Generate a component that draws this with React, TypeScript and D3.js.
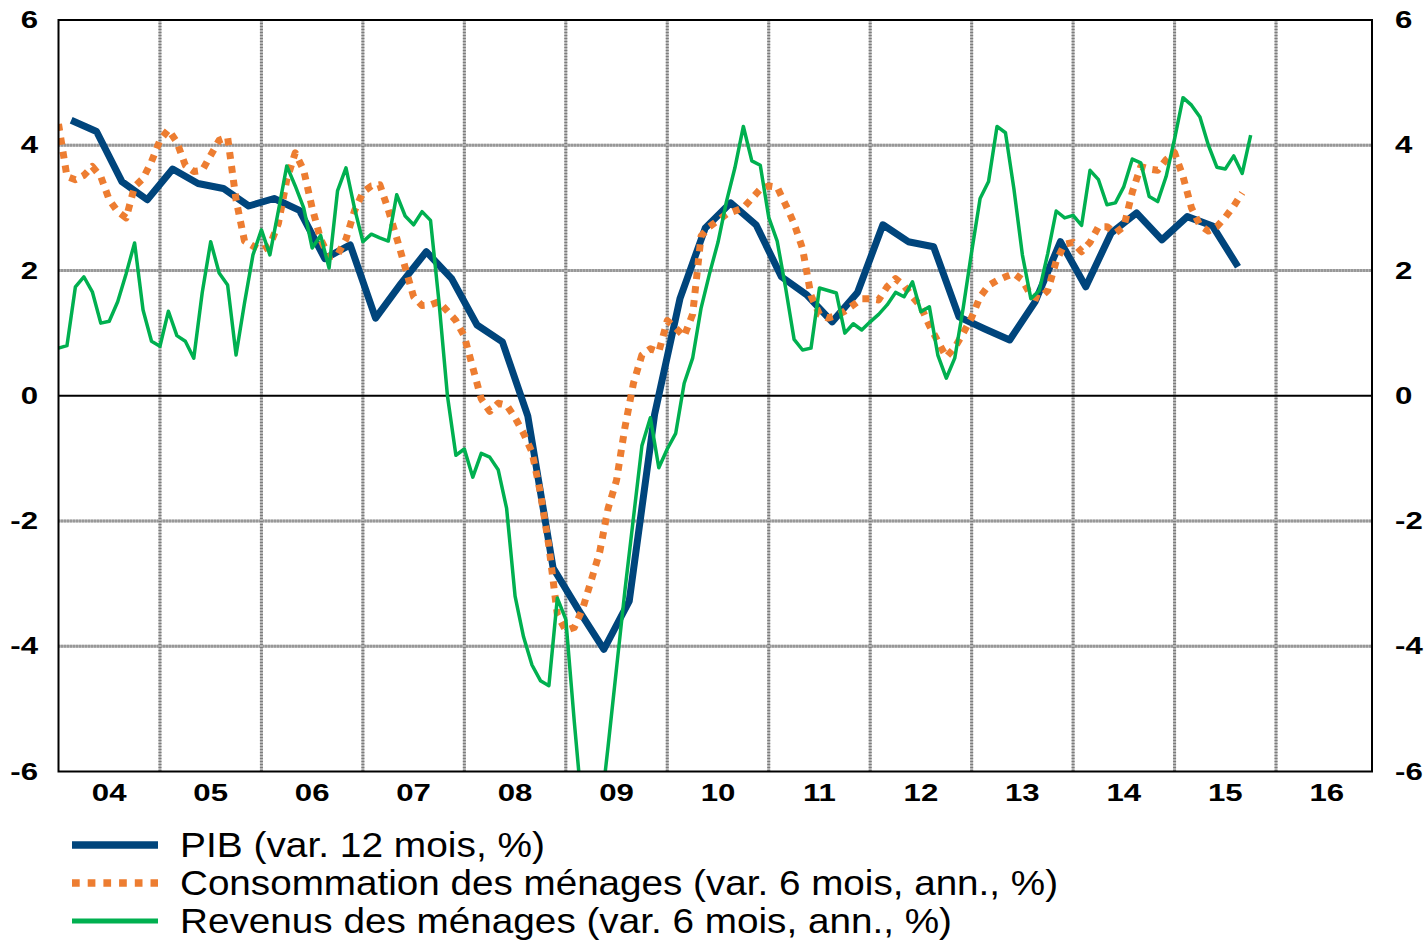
import React from "react";
import * as d3 from "d3";

// Year labels (category axis, one per calendar year)
const years = ["04", "05", "06", "07", "08", "09", "10", "11", "12", "13", "14", "15", "16"];
const yTicks = [-6, -4, -2, 0, 2, 4, 6];
const gridValues = [-4, -2, 2, 4];

// PIB, quarterly (Q1 2004 .. Q3 2015), var. 12 mois %
const pib = [
  4.40, 4.22, 3.42, 3.13, 3.62, 3.39, 3.31, 3.03, 3.15, 2.96, 2.19, 2.41,
  1.24, 1.79, 2.30, 1.87, 1.13, 0.86, -0.32, -2.75, -3.42, -4.05, -3.28, -0.30,
  1.55, 2.68, 3.08, 2.73, 1.90, 1.61, 1.18, 1.65, 2.73, 2.46, 2.38, 1.26,
  1.07, 0.89, 1.50, 2.46, 1.74, 2.60, 2.92, 2.49, 2.86, 2.71, 2.06,
];

// Consommation des ménages, monthly from Jan 2004
const consommation = [
  4.34, 3.5, 3.45, 3.52, 3.66, 3.5, 3.13, 2.94, 2.84, 3.34,
  3.47, 3.74, 4.08, 4.25, 4.05, 3.68, 3.58, 3.6, 3.84, 4.08,
  4.13, 3.13, 2.47, 2.39, 2.32, 2.4, 2.75, 3.45, 3.88, 3.6,
  3.0, 2.5, 2.22, 2.25, 2.5, 2.95, 3.25, 3.35, 3.37, 2.97,
  2.52, 2.05, 1.58, 1.44, 1.45, 1.5, 1.35, 1.2, 0.95, 0.45,
  -0.05, -0.25, -0.12, -0.15, -0.35, -0.6, -0.9, -1.55, -2.4, -3.5,
  -3.75, -3.7, -3.4, -2.95, -2.5, -1.8, -1.35, -0.5, 0.2, 0.65,
  0.75, 0.7, 1.2, 1.08, 0.95, 1.3, 2.55, 2.7, 2.8, 2.9,
  2.95, 3.0, 3.15, 3.3, 3.35, 3.33, 3.05, 2.75, 2.35, 1.6,
  1.3, 1.24, 1.28, 1.35, 1.45, 1.55, 1.55, 1.53, 1.74, 1.87,
  1.76, 1.58, 1.42, 1.12, 0.87, 0.62, 0.77, 1.0, 1.25, 1.58,
  1.76, 1.84, 1.9, 1.95, 1.85, 1.6, 1.55, 1.68, 2.15, 2.42,
  2.45, 2.3, 2.45, 2.7, 2.7, 2.6, 2.7, 3.25, 3.66, 3.62,
  3.6, 3.77, 3.88, 3.5, 3.0, 2.72, 2.63, 2.7, 2.85, 3.03,
  3.24,
];

// Revenus des ménages, monthly from Jan 2004
const revenus = [
  0.76, 0.80, 1.74, 1.90, 1.66, 1.16, 1.19, 1.50, 1.95, 2.44,
  1.37, 0.87, 0.79, 1.35, 0.96, 0.87, 0.60, 1.65, 2.46, 1.96,
  1.77, 0.65, 1.48, 2.25, 2.65, 2.25, 2.95, 3.67, 3.35, 3.0,
  2.36, 2.56, 2.04, 3.27, 3.64, 3.0, 2.46, 2.58, 2.52, 2.47,
  3.21, 2.87, 2.73, 2.94, 2.8, 1.5, 0.0, -0.95, -0.85, -1.30,
  -0.92, -0.98, -1.18, -1.8, -3.2, -3.85, -4.3, -4.55, -4.63, -3.23,
  -3.57, -5.2, -6.7, -7.4, -6.8, -5.6, -4.35, -3.1, -1.95, -0.8,
  -0.35, -1.15, -0.85, -0.6, 0.2, 0.6, 1.4, 1.95, 2.45, 3.1,
  3.64, 4.3, 3.75, 3.68, 2.85, 2.47, 1.72, 0.9, 0.73, 0.76,
  1.72, 1.68, 1.64, 1.0, 1.15, 1.05, 1.18, 1.3, 1.45, 1.65,
  1.58, 1.82, 1.34, 1.42, 0.65, 0.28, 0.6, 1.4, 2.3, 3.15,
  3.42, 4.3, 4.2, 3.3, 2.25, 1.55, 1.68, 2.27, 2.95, 2.84,
  2.88, 2.72, 3.6, 3.45, 3.05, 3.08, 3.34, 3.78, 3.72, 3.18,
  3.1, 3.5, 4.1, 4.76, 4.64, 4.45, 4.0, 3.65, 3.62, 3.83,
  3.55, 4.16,
];

const legendLabels = [
  "PIB (var. 12 mois, %)",
  "Consommation des ménages (var. 6 mois, ann., %)",
  "Revenus des ménages (var. 6 mois, ann., %)",
];

const NAVY = "#00457C";
const ORANGE = "#ED7D31";
const GREEN = "#00B050";

export default function App() {
  const W = 1424;
  const H = 941;
  // x in months since Jan 2004
  const x = d3.scaleLinear().domain([0, 155.35]).range([58.5, 1372]);
  const y = d3.scaleLinear().domain([-6, 6]).range([771.5, 20]);
  const [x0, x1] = x.range();
  const yTop = y(6);
  const yBot = y(-6);

  const line = d3
    .line<[number, number]>()
    .x((d) => x(d[0]))
    .y((d) => y(d[1]));

  const pibPts: [number, number][] = pib.map((v, k) => [1.5 + 3 * k, v]);
  const consPts: [number, number][] = consommation.map((v, m) => [m, v]);
  const revPts: [number, number][] = revenus.map((v, m) => [m, v]);

  const yearBounds = d3.range(1, years.length).map((i) => i * 12);

  const tickFont = "'Liberation Sans', Arial, sans-serif";

  const legendW = [365, 878, 772];

  return (
    <svg
      width={W}
      height={H}
      style={{ position: "absolute", left: 0, top: 0, display: "block", background: "#fff" }}
    >
      <defs>
        <clipPath id="plotClip">
          <rect x={x0} y={yTop} width={x1 - x0} height={yBot - yTop} />
        </clipPath>
      </defs>
      <rect x={0} y={0} width={W} height={H} fill="#fff" />

      {/* gridlines */}
      <g>
        {gridValues.map((v) => (
          <g key={"h" + v}>
            <line x1={x0} x2={x1} y1={y(v)} y2={y(v)} stroke="#b4b4b4" strokeWidth={3} />
            <line x1={x0} x2={x1} y1={y(v)} y2={y(v)} stroke="#7c7c7c" strokeWidth={3} strokeDasharray="1 2" />
          </g>
        ))}
        {yearBounds.map((m) => (
          <g key={"v" + m}>
            <line x1={x(m)} x2={x(m)} y1={yTop} y2={yBot} stroke="#b4b4b4" strokeWidth={3} />
            <line x1={x(m)} x2={x(m)} y1={yTop} y2={yBot} stroke="#7c7c7c" strokeWidth={3} strokeDasharray="1 2" />
          </g>
        ))}
      </g>

      {/* zero line */}
      <line x1={x0} x2={x1} y1={y(0)} y2={y(0)} stroke="#000" strokeWidth={2} />

      {/* series */}
      <g clipPath="url(#plotClip)" fill="none">
        <path d={line(pibPts) || ""} stroke={NAVY} strokeWidth={7} strokeLinejoin="round" strokeLinecap="butt" />
        <path
          d={line(consPts) || ""}
          stroke={ORANGE}
          strokeWidth={7}
          strokeDasharray="7 7"
          strokeLinejoin="round"
          strokeLinecap="butt"
        />
        <path d={line(revPts) || ""} stroke={GREEN} strokeWidth={3.5} strokeLinejoin="round" />
      </g>

      {/* frame */}
      <rect x={x0} y={yTop} width={x1 - x0} height={yBot - yTop} fill="none" stroke="#000" strokeWidth={2} />

      {/* y tick labels left and right */}
      {yTicks.map((v) => (
        <g key={"yl" + v}>
          <text
            transform={`translate(38, ${y(v)}) scale(1.3,1)`}
            textAnchor="end"
            dominantBaseline="central"
            fontFamily={tickFont}
            fontWeight="bold"
            fontSize={24}
            fill="#000"
          >
            {v}
          </text>
          <text
            transform={`translate(1395, ${y(v)}) scale(1.3,1)`}
            textAnchor="start"
            dominantBaseline="central"
            fontFamily={tickFont}
            fontWeight="bold"
            fontSize={24}
            fill="#000"
          >
            {v}
          </text>
        </g>
      ))}

      {/* x labels */}
      {years.map((yr, i) => (
        <text
          key={"x" + yr}
          transform={`translate(${x(i * 12 + 6)}, 800.5) scale(1.3,1)`}
          textAnchor="middle"
          fontFamily={tickFont}
          fontWeight="bold"
          fontSize={24}
          fill="#000"
        >
          {yr}
        </text>
      ))}

      {/* legend */}
      <g>
        {legendLabels.map((lab, i) => {
          const cy = 845 + i * 38;
          return (
            <g key={lab}>
              {i === 0 && <line x1={72} x2={158} y1={cy} y2={cy} stroke={NAVY} strokeWidth={7.5} />}
              {i === 1 && (
                <line x1={72} x2={158} y1={cy} y2={cy} stroke={ORANGE} strokeWidth={7.5} strokeDasharray="7.7 8" />
              )}
              {i === 2 && <line x1={72} x2={158} y1={cy} y2={cy} stroke={GREEN} strokeWidth={5} />}
              <text
                x={180}
                y={cy + 11.7}
                fontFamily="'Liberation Sans', Arial, sans-serif"
                fontSize={35}
                textLength={legendW[i]}
                lengthAdjust="spacingAndGlyphs"
                fill="#000"
              >
                {lab}
              </text>
            </g>
          );
        })}
      </g>
    </svg>
  );
}
